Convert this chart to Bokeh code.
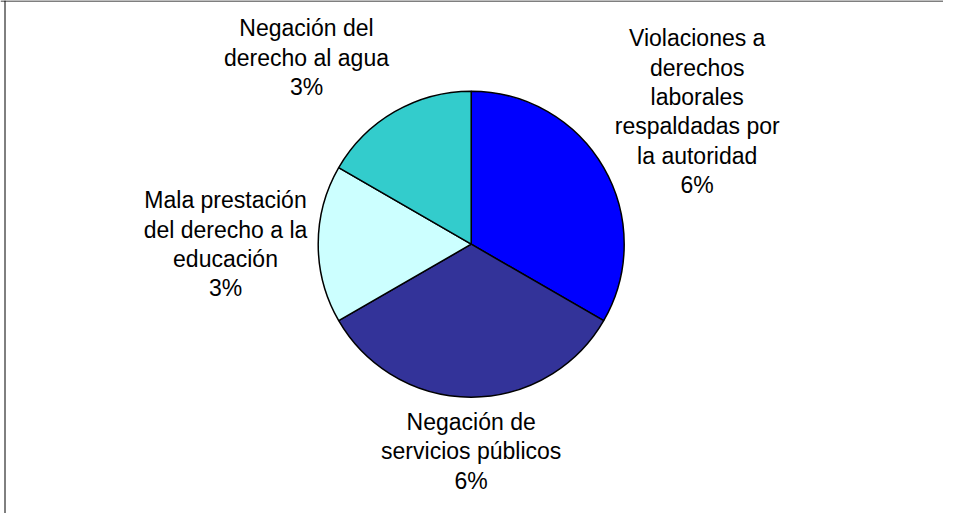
import math
from bokeh.plotting import figure
from bokeh.models import Range1d, Span, ColumnDataSource
from bokeh.core.properties import value
from bokeh.embed import file_html
from bokeh.resources import INLINE

# ---- data ----
categories = [
    "Violaciones a derechos laborales respaldadas por la autoridad",
    "Negación de servicios públicos",
    "Mala prestación del derecho a la educación",
    "Negación del derecho al agua",
]
values = [6, 6, 3, 3]
colors = ["#0000FF", "#333399", "#CCFFFF", "#33CCCC"]
label_lines = [
    ["Violaciones a", "derechos", "laborales", "respaldadas por", "la autoridad"],
    ["Negación de", "servicios públicos"],
    ["Mala prestación", "del derecho a la", "educación"],
    ["Negación del", "derecho al agua"],
]

# ---- layout ----
W, H = 943, 513
CX, CY, R = 470.7, 269.3, 153.0
LINE_H = 29.4
label_offsets = [(226.0, 132.5), (0.0, -207.1), (-245.7, 0.0), (-164.7, 186.5)]

p = figure(width=W, height=H, output_backend="svg", toolbar_location=None,
           x_range=Range1d(0, W), y_range=Range1d(0, H), min_border=0)
p.axis.visible = False
p.grid.visible = False
p.outline_line_color = None
p.background_fill_color = "white"
p.border_fill_color = "white"

# frame (left and top edges visible)
p.add_layout(Span(location=4.5, dimension="height", line_color="black", line_width=1))
p.add_layout(Span(location=H - 0.5, dimension="width", line_color="black", line_width=1))

total = sum(values)
starts, ends = [], []
cum = 0
for v in values:
    a0 = math.pi / 2 - 2 * math.pi * cum / total
    cum += v
    a1 = math.pi / 2 - 2 * math.pi * cum / total
    starts.append(a0)
    ends.append(a1)

src = ColumnDataSource(dict(x=[CX] * len(values), y=[CY] * len(values),
                            start=starts, end=ends, color=colors, cat=categories))
p.wedge(x="x", y="y", radius=R, start_angle="start", end_angle="end",
        direction="clock", fill_color="color", line_color="black",
        line_width=1.5, source=src)

tx, ty, tt = [], [], []
for i, v in enumerate(values):
    lines = label_lines[i] + [f"{v}%"]
    n = len(lines)
    lx = CX + label_offsets[i][0]
    ly = CY + label_offsets[i][1]
    for j, s in enumerate(lines):
        tx.append(lx)
        ty.append(ly + ((n - 1) / 2 - j) * LINE_H)
        tt.append(s)

p.text(x="x", y="y", text="t", source=ColumnDataSource(dict(x=tx, y=ty, t=tt)),
       text_font=value("Liberation Sans"), text_font_size="23px",
       text_color="black", text_align="center", text_baseline="middle")

open("out.html", "w").write(file_html(p, INLINE))
